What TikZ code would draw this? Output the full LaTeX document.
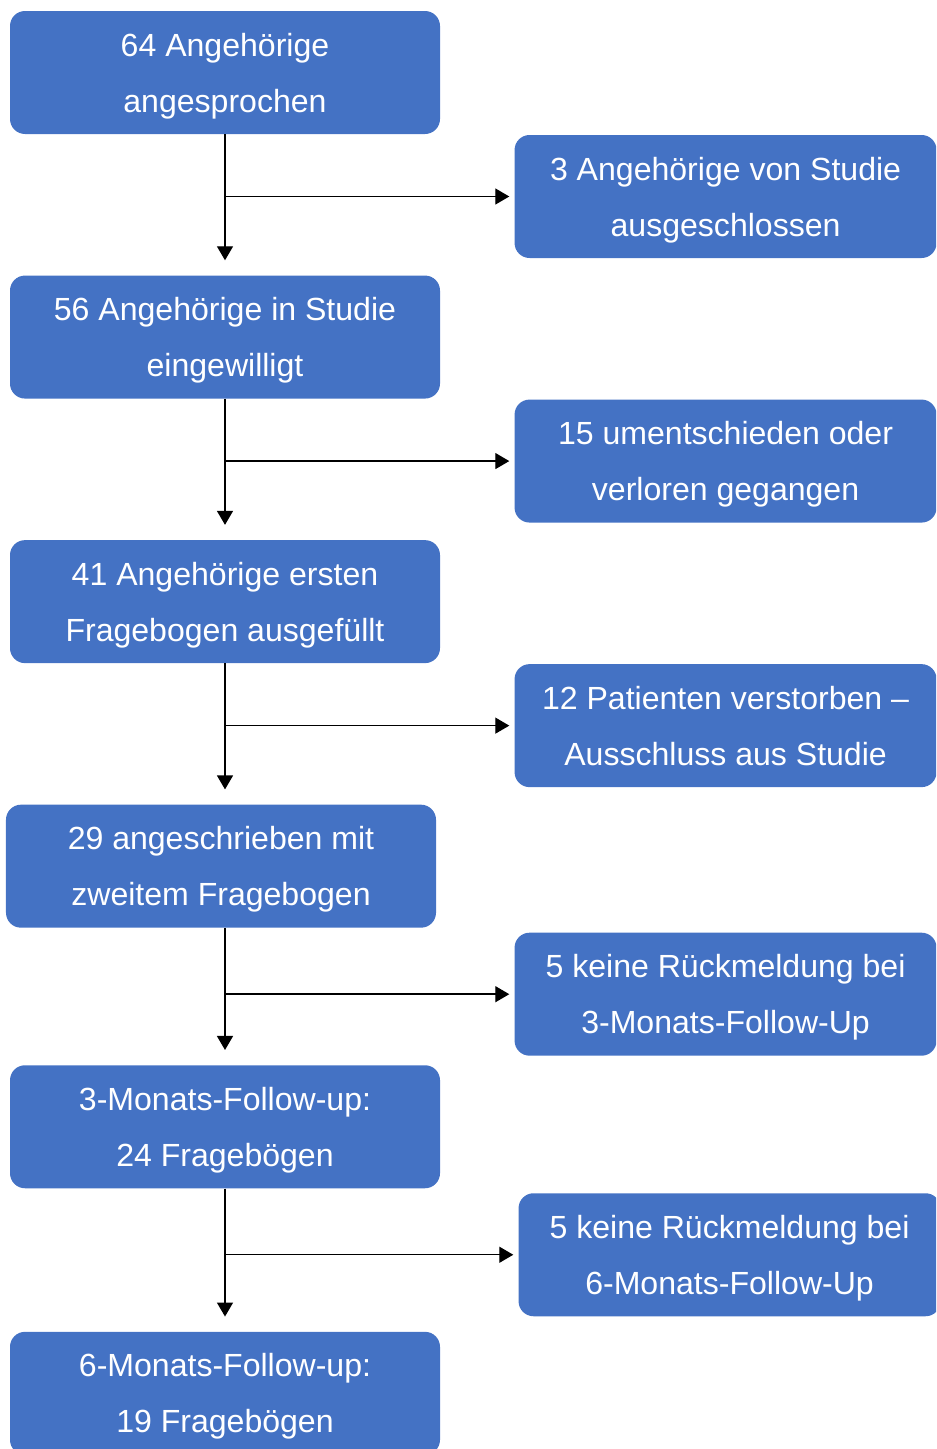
\documentclass[tikz,border=0pt]{standalone}
\usepackage{fontspec}
\setmainfont{Liberation Sans}
\usepackage{tikz}
\usetikzlibrary{positioning,arrows.meta}
\definecolor{boxblue}{HTML}{4472C4}
\tikzset{
  flowbox/.style={rectangle, rounded corners=0.375cm, fill=boxblue, text=white,
                  minimum width=10.75cm, minimum height=3.075cm, align=center,
                  text depth=0pt, font=\fontsize{22.8pt}{39.8pt}\selectfont},
  sidebox/.style={flowbox, minimum width=10.55cm},
  fwd/.style={-{Triangle[length=0.35cm, width=0.4cm]}, line width=1pt},
}

\begin{document}
\begin{tikzpicture}
  \clip (0,0) rectangle (23.4,-36.225);
  \node[flowbox] (node1) at (5.625,-1.8125) {64 Angehörige\\angesprochen};
  \node[flowbox] (node2) [below=3.525cm of node1] {56 Angehörige in Studie\\eingewilligt};
  \node[flowbox] (node3) [below=3.525cm of node2] {41 Angehörige ersten\\Fragebogen ausgefüllt};
  \node[flowbox] (node4) [below=3.525cm of node3, xshift=-0.1cm] {29 angeschrieben mit\\zweitem Fragebogen};
  \node[flowbox] (node5) [below=3.425cm of node4, xshift=0.1cm] {3-Monats-Follow-up:\\24 Fragebögen};
  \node[flowbox] (node6) [below=3.575cm of node5] {6-Monats-Follow-up:\\19 Fragebögen};

  \node[sidebox] (node7) [right=1.85cm of node1, yshift=-3.1cm] {3 Angehörige von Studie\\ausgeschlossen};
  \node[sidebox] (node8) [right=1.85cm of node2, yshift=-3.1cm] {15 umentschieden oder\\verloren gegangen};
  \node[sidebox] (node9) [right=1.85cm of node3, yshift=-3.1cm] {12 Patienten verstorben --\\Ausschluss aus Studie};
  \node[sidebox] (node10) [right=1.95cm of node4, yshift=-3.2cm] {5 keine Rückmeldung bei\\3-Monats-Follow-Up};
  \node[sidebox] (node11) [right=1.95cm of node5, yshift=-3.2cm] {5 keine Rückmeldung bei\\6-Monats-Follow-Up};

  \draw[fwd, shorten >=0.375cm] (node1.south) -- (node2.north);
  \draw[fwd, shorten >=0.375cm] (node2.south) -- (node3.north);
  \draw[fwd, shorten >=0.375cm] (node3.south) -- (node4.north -| node3.south);
  \draw[fwd, shorten >=0.375cm] (node4.south -| node5.north) -- (node5.north);
  \draw[fwd, shorten >=0.375cm] (node5.south) -- (node6.north);

  \draw[fwd, shorten >=0.125cm] (node1.south |- node7.west) -- (node7.west);
  \draw[fwd, shorten >=0.125cm] (node2.south |- node8.west) -- (node8.west);
  \draw[fwd, shorten >=0.125cm] (node3.south |- node9.west) -- (node9.west);
  \draw[fwd, shorten >=0.125cm] (node5.north |- node10.west) -- (node10.west);
  \draw[fwd, shorten >=0.125cm] (node5.south |- node11.west) -- (node11.west);
\end{tikzpicture}
\end{document}
